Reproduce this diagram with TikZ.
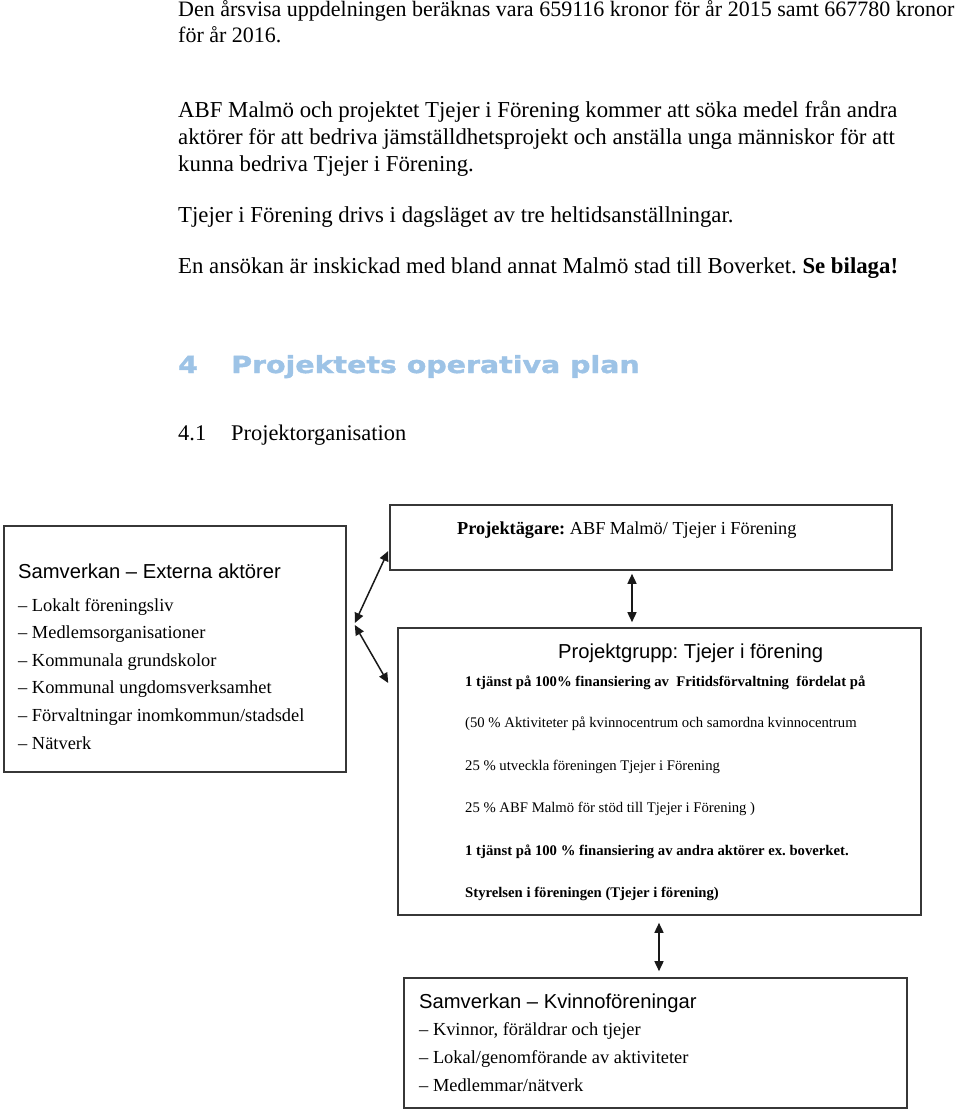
\documentclass[tikz,border=0pt]{standalone}
\usepackage{fontspec}
\setmainfont{Liberation Serif}
\setsansfont{Liberation Sans}
\newfontfamily\headfont[FakeStretch=1.21, BoldFeatures={FakeBold=1.6}]{DejaVu Sans}
\usepackage{xcolor}
\usetikzlibrary{arrows.meta}
\definecolor{headblue}{RGB}{157, 195, 230}
\definecolor{framegray}{RGB}{55, 55, 55}
\definecolor{arrowdark}{RGB}{25, 25, 25}
\frenchspacing

\begin{document}
\begin{tikzpicture}[x=1pt, y=-1pt,
  bodytext/.style={anchor=base west, inner sep=0pt, font=\fontsize{22.8}{27}\selectfont},
  headtext/.style={anchor=base west, inner sep=0pt, text=headblue, font=\headfont\bfseries\fontsize{23.5}{28}\selectfont},
  orgbox/.style={draw=framegray, line width=1.6pt, inner sep=0pt},
  boxtitle/.style={anchor=base west, inner sep=0pt, font=\sffamily\fontsize{20.2}{24}\selectfont},
  boxitem/.style={anchor=base west, inner sep=0pt, font=\fontsize{18.4}{22}\selectfont},
  smallline/.style={anchor=base west, inner sep=0pt, font=\fontsize{14.7}{17}\selectfont},
  twoway/.style={{Triangle[length=10pt,width=9pt]}-{Triangle[length=10pt,width=9pt]}, draw=arrowdark, line width=1.5pt}]
  \useasboundingbox (0,0) rectangle (960,1112);

  \node[bodytext, font=\fontsize{22}{27}\selectfont] (p1a) at (178,16) {Den årsvisa uppdelningen beräknas vara 659116 kronor för år 2015 samt 667780 kronor};
  \node[bodytext, font=\fontsize{22}{27}\selectfont] (p1b) at (178,42) {för år 2016.};
  \node[bodytext] (p2a) at (178,117) {ABF Malmö och projektet Tjejer i Förening kommer att söka medel från andra};
  \node[bodytext] (p2b) at (178,144) {aktörer för att bedriva jämställdhetsprojekt och anställa unga människor för att};
  \node[bodytext] (p2c) at (178,171) {kunna bedriva Tjejer i Förening.};
  \node[bodytext] (p3) at (178,222) {Tjejer i Förening drivs i dagsläget av tre heltidsanställningar.};
  \node[bodytext] (p4) at (178,273) {En ansökan är inskickad med bland annat Malmö stad till Boverket. \textbf{Se bilaga!}};

  \node[headtext] (secnum) at (178,373) {4};
  \node[headtext] (sectitle) at (231,373) {Projektets operativa plan};
  \node[bodytext, font=\fontsize{22.4}{27}\selectfont] (subnum) at (178,440) {4.1};
  \node[bodytext, font=\fontsize{22.4}{27}\selectfont] (subtitle) at (231,440) {Projektorganisation};

  \node[orgbox, minimum width=502pt, minimum height=65pt] (owner) at (641,537.5) {};
  \node[anchor=base west, inner sep=0pt, font=\fontsize{18.3}{22}\selectfont] (ownertext) at (457,534) {\textbf{Projektägare:} ABF Malmö/ Tjejer i Förening};

  \node[orgbox, minimum width=342pt, minimum height=246pt] (ext) at (175,649) {};
  \node[boxtitle] (exttitle) at (18,578) {Samverkan – Externa aktörer};
  \node[boxitem] (ext1) at (18,611) {– Lokalt föreningsliv};
  \node[boxitem] (ext2) at (18,638) {– Medlemsorganisationer};
  \node[boxitem] (ext3) at (18,666) {– Kommunala grundskolor};
  \node[boxitem] (ext4) at (18,693) {– Kommunal ungdomsverksamhet};
  \node[boxitem] (ext5) at (18,721) {– Förvaltningar inomkommun/stadsdel};
  \node[boxitem] (ext6) at (18,749) {– Nätverk};

  \node[orgbox, minimum width=523pt, minimum height=287pt] (group) at (659.5,771.5) {};
  \node[boxtitle] (grouptitle) at (558,658) {Projektgrupp: Tjejer i förening};
  \node[smallline, font=\bfseries\fontsize{14.7}{17}\selectfont] (g1) at (465,686) {1 tjänst på 100\% finansiering av\ \ Fritidsförvaltning\ \ fördelat på};
  \node[smallline] (g2) at (465,727) {(50 \% Aktiviteter på kvinnocentrum och samordna kvinnocentrum};
  \node[smallline] (g3) at (465,770) {25 \% utveckla föreningen Tjejer i Förening};
  \node[smallline] (g4) at (465,812) {25 \% ABF Malmö för stöd till Tjejer i Förening )};
  \node[smallline, font=\bfseries\fontsize{14.7}{17}\selectfont] (g5) at (465,855) {1 tjänst på 100 \% finansiering av andra aktörer ex. boverket.};
  \node[smallline, font=\bfseries\fontsize{14.7}{17}\selectfont] (g6) at (465,897) {Styrelsen i föreningen (Tjejer i förening)};

  \node[orgbox, minimum width=503pt, minimum height=130pt] (kvinno) at (655.5,1043) {};
  \node[boxtitle] (kvinnotitle) at (419,1008) {Samverkan – Kvinnoföreningar};
  \node[boxitem] (kv1) at (419,1035) {– Kvinnor, föräldrar och tjejer};
  \node[boxitem] (kv2) at (419,1063) {– Lokal/genomförande av aktiviteter};
  \node[boxitem] (kv3) at (419,1091) {– Medlemmar/nätverk};

  \draw[twoway] ([xshift=8pt,yshift=26pt]ext.east) -- ([xshift=-1pt,yshift=-13.5pt]owner.west);
  \draw[twoway] ([xshift=8pt,yshift=24pt]ext.east) -- ([xshift=-9pt,yshift=88.5pt]group.west);
  \draw[twoway] ([xshift=-9pt,yshift=-3pt]owner.south) -- ([xshift=-27.5pt,yshift=5pt]group.north);
  \draw[twoway] ([xshift=-0.5pt,yshift=-7pt]group.south) -- ([xshift=3.5pt,yshift=6pt]kvinno.north);
\end{tikzpicture}
\end{document}
